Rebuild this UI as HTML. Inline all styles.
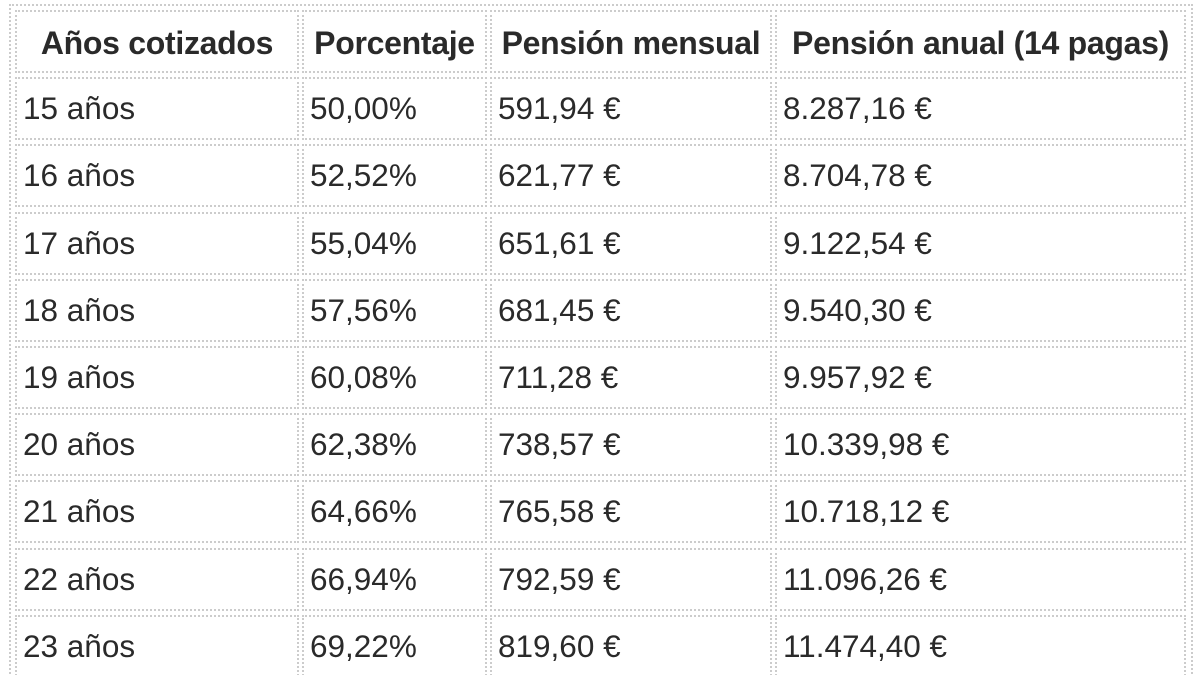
<!DOCTYPE html>
<html style="height:675px;overflow:hidden"><head><meta charset="utf-8"><style>
html,body{margin:0;width:1200px;height:675px;overflow:hidden}
body{background:#fff;font-family:"Liberation Sans",Arial,sans-serif;color:#2a2a2a;position:relative}
.o{position:absolute;left:9px;top:4px;width:1180px;height:680px;border:2px dotted #ccc;border-bottom:none}
.r{position:absolute;left:0;width:1200px;height:63px}
.c{position:absolute;top:0;box-sizing:border-box;height:63px;border:2px dotted #ccc;font-size:31.5px;line-height:58px;padding-left:6px;white-space:nowrap}
.a{left:15px;width:284px}.b{left:302px;width:185px}.d{left:490px;width:282px}.e{left:775px;width:411px}
.h .c{font-weight:bold;text-align:center;padding-left:0;font-size:32px;line-height:62px;letter-spacing:-0.3px}
.l .c{height:80px;border-bottom:none}
</style></head><body>
<div class="o"></div>
<div class="r h" style="top:10px"><div class="c a">Años cotizados</div><div class="c b">Porcentaje</div><div class="c d">Pensión mensual</div><div class="c e">Pensión anual (14 pagas)</div></div>
<div class="r" style="top:77px"><div class="c a">15 años</div><div class="c b">50,00%</div><div class="c d">591,94 €</div><div class="c e">8.287,16 €</div></div>
<div class="r" style="top:144px"><div class="c a">16 años</div><div class="c b">52,52%</div><div class="c d">621,77 €</div><div class="c e">8.704,78 €</div></div>
<div class="r" style="top:212px"><div class="c a">17 años</div><div class="c b">55,04%</div><div class="c d">651,61 €</div><div class="c e">9.122,54 €</div></div>
<div class="r" style="top:279px"><div class="c a">18 años</div><div class="c b">57,56%</div><div class="c d">681,45 €</div><div class="c e">9.540,30 €</div></div>
<div class="r" style="top:346px"><div class="c a">19 años</div><div class="c b">60,08%</div><div class="c d">711,28 €</div><div class="c e">9.957,92 €</div></div>
<div class="r" style="top:413px"><div class="c a">20 años</div><div class="c b">62,38%</div><div class="c d">738,57 €</div><div class="c e">10.339,98 €</div></div>
<div class="r" style="top:480px"><div class="c a">21 años</div><div class="c b">64,66%</div><div class="c d">765,58 €</div><div class="c e">10.718,12 €</div></div>
<div class="r" style="top:548px"><div class="c a">22 años</div><div class="c b">66,94%</div><div class="c d">792,59 €</div><div class="c e">11.096,26 €</div></div>
<div class="r l" style="top:615px"><div class="c a">23 años</div><div class="c b">69,22%</div><div class="c d">819,60 €</div><div class="c e">11.474,40 €</div></div>
</body></html>
